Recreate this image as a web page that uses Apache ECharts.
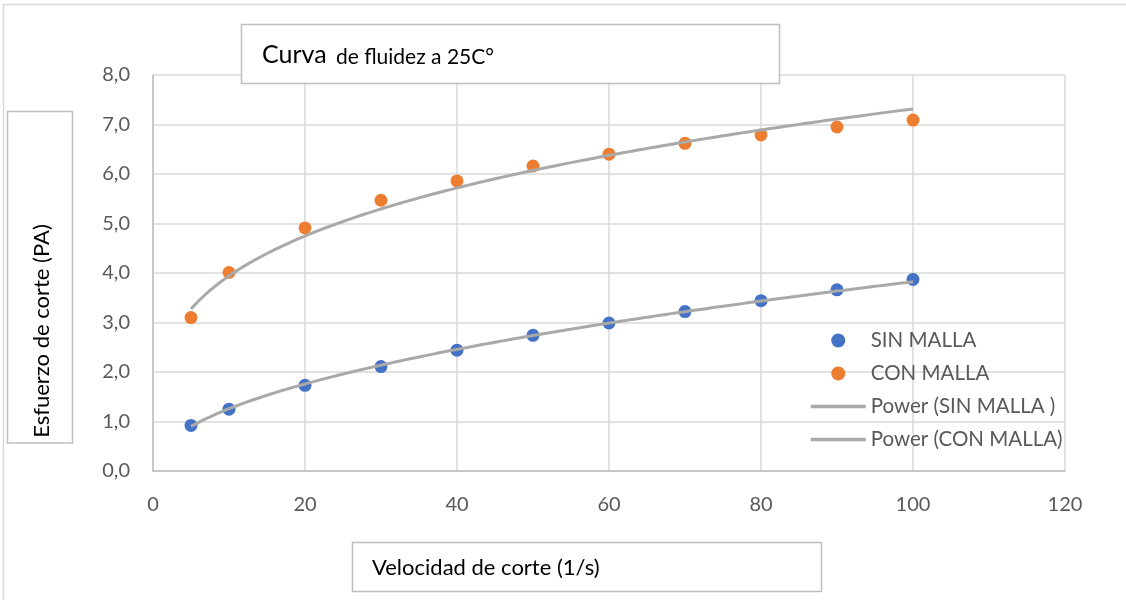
<!DOCTYPE html>
<html>
<head>
<meta charset="utf-8">
<script src="https://cdn.jsdelivr.net/npm/echarts@6/dist/echarts.min.js"></script>
<style>
  html, body { margin: 0; padding: 0; background: #fff; }
  #chart { width: 1126px; height: 600px; }
</style>
</head>
<body>
<div id="chart"></div>
<script>
// Shear rate (1/s)
const shearRate = [5, 10, 20, 30, 40, 50, 60, 70, 80, 90, 100];
// Shear stress (Pa) without mesh
const sinMalla = [0.92, 1.25, 1.73, 2.11, 2.44, 2.74, 2.99, 3.22, 3.44, 3.66, 3.87];
// Shear stress (Pa) with mesh
const conMalla = [3.10, 4.01, 4.91, 5.47, 5.86, 6.16, 6.40, 6.62, 6.79, 6.95, 7.09];

const xTicks = [0, 20, 40, 60, 80, 100, 120];
const yTicks = [0, 1, 2, 3, 4, 5, 6, 7, 8];

const seriesNames = ['SIN MALLA', 'CON MALLA', 'Power (SIN MALLA )', 'Power (CON MALLA)'];

// Least-squares power fit y = a * x^b (log-log regression)
function powerFit(xs, ys) {
  const lx = xs.map(Math.log), ly = ys.map(Math.log);
  const n = xs.length;
  const mx = lx.reduce((s, v) => s + v, 0) / n;
  const my = ly.reduce((s, v) => s + v, 0) / n;
  let sxy = 0, sxx = 0;
  for (let i = 0; i < n; i++) {
    sxy += (lx[i] - mx) * (ly[i] - my);
    sxx += (lx[i] - mx) * (lx[i] - mx);
  }
  const b = sxy / sxx;
  const a = Math.exp(my - b * mx);
  return { a, b };
}

function trendCurve(xs, ys) {
  const { a, b } = powerFit(xs, ys);
  const x0 = xs[0], x1 = xs[xs.length - 1];
  const pts = [];
  const steps = 190;
  for (let i = 0; i <= steps; i++) {
    const x = x0 + (x1 - x0) * i / steps;
    pts.push([x, a * Math.pow(x, b)]);
  }
  return pts;
}

const pairs = (xs, ys) => xs.map((x, i) => [x, ys[i]]);

const FONT = 'Lato';
const TREND = '#A9A9A9';
const chart = echarts.init(document.getElementById('chart'), null, { renderer: 'canvas' });

chart.setOption({
  animation: false,
  backgroundColor: '#ffffff',
  textStyle: { fontFamily: FONT },
  grid: { left: 153, right: 61, top: 75, bottom: 129, containLabel: false },
  xAxis: {
    type: 'value',
    min: xTicks[0],
    max: xTicks[xTicks.length - 1],
    interval: xTicks[1] - xTicks[0],
    axisLine: { show: true, lineStyle: { color: '#BFBFBF', width: 1.5 } },
    axisTick: { show: false },
    axisLabel: { color: '#595959', fontSize: 20, fontFamily: FONT, margin: 24 },
    splitLine: { show: true, lineStyle: { color: '#D9D9D9', width: 1.5 } }
  },
  yAxis: {
    type: 'value',
    min: yTicks[0],
    max: yTicks[yTicks.length - 1],
    interval: yTicks[1] - yTicks[0],
    axisLine: { show: true, lineStyle: { color: '#BFBFBF', width: 1.5 } },
    axisTick: { show: false },
    axisLabel: {
      color: '#595959', fontSize: 20, fontFamily: FONT, margin: 23,
      formatter: v => v.toFixed(1).replace('.', ',')
    },
    splitLine: { show: true, lineStyle: { color: '#D9D9D9', width: 1.5 } }
  },
  legend: {
    orient: 'vertical',
    left: 809,
    top: 330,
    padding: 0,
    itemWidth: 55,
    itemHeight: 14,
    itemGap: 12,
    data: [
      { name: seriesNames[0] },
      { name: seriesNames[1] },
      { name: seriesNames[2], itemStyle: { opacity: 0 }, lineStyle: { width: 3.5 } },
      { name: seriesNames[3], itemStyle: { opacity: 0 }, lineStyle: { width: 3.5 } }
    ],
    textStyle: { color: '#595959', fontSize: 20.5, fontFamily: FONT, lineHeight: 20 }
  },
  series: [
    {
      name: seriesNames[0], type: 'scatter', symbol: 'circle', symbolSize: 13,
      itemStyle: { color: '#4472C4', opacity: 1 }, data: pairs(shearRate, sinMalla), z: 2
    },
    {
      name: seriesNames[1], type: 'scatter', symbol: 'circle', symbolSize: 13,
      itemStyle: { color: '#ED7D31', opacity: 1 }, data: pairs(shearRate, conMalla), z: 2
    },
    {
      name: seriesNames[2], type: 'line', showSymbol: false, symbol: 'none',
      lineStyle: { color: TREND, width: 3 }, itemStyle: { color: TREND },
      data: trendCurve(shearRate, sinMalla), z: 3
    },
    {
      name: seriesNames[3], type: 'line', showSymbol: false, symbol: 'none',
      lineStyle: { color: TREND, width: 3 }, itemStyle: { color: TREND },
      data: trendCurve(shearRate, conMalla), z: 3
    }
  ],
  graphic: [
    // outer chart frame
    {
      type: 'rect', z: 1, silent: true,
      shape: { x: 3.5, y: 4.5, width: 1300, height: 800 },
      style: { fill: 'none', stroke: '#D9D9D9', lineWidth: 1.5 }
    },
    // chart title box
    {
      type: 'rect', z: 20, silent: true,
      shape: { x: 241.5, y: 24.5, width: 538, height: 59 },
      style: { fill: '#ffffff', stroke: '#BFBFBF', lineWidth: 1.5 }
    },
    {
      type: 'text', z: 21, silent: true, x: 262, y: 55,
      style: {
        text: 'Curva', fontSize: 25, fontFamily: FONT, fill: '#000000',
        align: 'left', verticalAlign: 'middle'
      }
    },
    {
      type: 'text', z: 21, silent: true, x: 336, y: 57,
      style: {
        text: 'de fluidez a 25C°', fontSize: 21, fontFamily: FONT, fill: '#000000',
        align: 'left', verticalAlign: 'middle'
      }
    },
    // y-axis title box
    {
      type: 'rect', z: 20, silent: true,
      shape: { x: 7.5, y: 111.5, width: 65, height: 331.5 },
      style: { fill: '#ffffff', stroke: '#BFBFBF', lineWidth: 1.5 }
    },
    {
      type: 'text', z: 21, silent: true, x: 42, y: 331, rotation: Math.PI / 2,
      style: {
        text: 'Esfuerzo de corte (PA)', fontSize: 22, fontFamily: FONT, fill: '#000000',
        align: 'center', verticalAlign: 'middle'
      }
    },
    // x-axis title box
    {
      type: 'rect', z: 20, silent: true,
      shape: { x: 352.5, y: 542.5, width: 469, height: 49 },
      style: { fill: '#ffffff', stroke: '#BFBFBF', lineWidth: 1.5 }
    },
    {
      type: 'text', z: 21, silent: true, x: 372, y: 568,
      style: {
        text: 'Velocidad de corte (1/s)', fontSize: 22, fontFamily: FONT, fill: '#000000',
        align: 'left', verticalAlign: 'middle'
      }
    }
  ]
});
</script>
</body>
</html>
